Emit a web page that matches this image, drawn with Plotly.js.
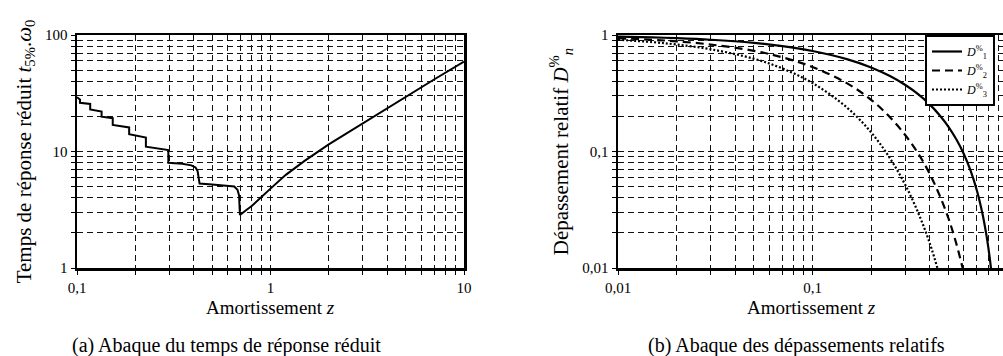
<!DOCTYPE html>
<html>
<head>
<meta charset="utf-8">
<script src="https://cdn.plot.ly/plotly-3.0.1.min.js"></script>
<style>html,body{margin:0;padding:0;background:#fff;overflow:hidden}#chart{width:1003px;height:356px}</style>
</head>
<body>
<div id="chart"></div>
<script>
// (a) reduced 5% response time vs damping
const zA = [0.1, 0.1036, 0.1036, 0.117, 0.117, 0.134, 0.134, 0.153, 0.153, 0.186, 0.186, 0.227, 0.227, 0.2965, 0.2965,
            0.35, 0.39, 0.41, 0.42, 0.427, 0.43, 0.5, 0.6, 0.65, 0.675, 0.688, 0.695, 0.72, 0.75, 0.8, 0.9, 1, 1.2, 1.5, 2, 3, 5, 7, 10];
const tA = [29.2, 28.0, 26.2, 25.6, 23.0, 22.0, 19.9, 19.3, 16.9, 16.1, 14.1, 13.2, 11.0, 10.3, 8.0,
            7.85, 7.6, 7.3, 6.8, 5.8, 5.3, 5.2, 5.1, 5.0, 4.7, 4.2, 2.85, 3.0, 3.15, 3.4, 4.1, 4.8, 6.3, 8.3, 11.5, 17.5, 29.8, 41.5, 59];

// (b) relative overshoots
const zD1 = [0.01, 0.015, 0.02, 0.03, 0.05, 0.07, 0.1, 0.15, 0.2, 0.25, 0.3, 0.35, 0.4, 0.45, 0.5, 0.55, 0.6, 0.65, 0.7, 0.75, 0.78, 0.8, 0.82, 0.84];
const D1  = [0.969, 0.954, 0.939, 0.910, 0.855, 0.802, 0.729, 0.621, 0.527, 0.444, 0.372, 0.309, 0.254, 0.205, 0.163, 0.126, 0.0948, 0.0681, 0.046, 0.0284, 0.0199, 0.0152, 0.0111, 0.0077];
const zD2 = [0.01, 0.015, 0.02, 0.03, 0.05, 0.07, 0.1, 0.15, 0.2, 0.25, 0.3, 0.35, 0.4, 0.45, 0.5, 0.55, 0.6];
const D2  = [0.939, 0.910, 0.882, 0.828, 0.731, 0.643, 0.531, 0.386, 0.278, 0.197, 0.138, 0.0955, 0.0645, 0.0420, 0.0266, 0.0159, 0.0090];
const zD3 = [0.01, 0.015, 0.02, 0.03, 0.05, 0.07, 0.1, 0.15, 0.2, 0.25, 0.3, 0.35, 0.4, 0.45];
const D3  = [0.910, 0.869, 0.828, 0.754, 0.625, 0.516, 0.387, 0.239, 0.146, 0.0875, 0.0515, 0.0295, 0.0164, 0.0086];

// tick labels and texts
const xTickValsA = [0.1, 1, 10], xTickTextA = ['0,1', '1', '10'];
const yTickValsA = [1, 10, 100], yTickTextA = ['1', '10', '100'];
const xTickValsB = [0.01, 0.1, 1], xTickTextB = ['0,01', '0,1', '1'];
const yTickValsB = [0.01, 0.1, 1], yTickTextB = ['0,01', '0,1', '1'];
const legendNames = ['<i>D</i><sup>%</sup><sub>1</sub>', '<i>D</i><sup>%</sup><sub>2</sub>', '<i>D</i><sup>%</sup><sub>3</sub>'];
const xTitle = 'Amortissement <i>z</i>';
const yTitleA = 'Temps de réponse réduit <i>t</i><sub>5%</sub>.<i>ω</i><sub>0</sub>';
const yTitleB = 'Dépassement relatif <i>D</i><sup>%</sup><sub><i>n</i></sub>';
const captions = ['(a) Abaque du temps de réponse réduit', '(b) Abaque des dépassements relatifs'];

function minorVals(lo, hi) {
  const out = [];
  for (let d = lo; d < hi; d++) for (let m = 2; m <= 9; m++) out.push(m * Math.pow(10, d));
  return out;
}

const FONT = '"Liberation Serif", "DejaVu Serif", serif';
const GRID = '#111';
const DASH = '6px,4px';

function axis(extra) {
  return Object.assign({
    type: 'log', showline: true, linecolor: '#000', linewidth: 2.5, mirror: true,
    ticks: 'outside', ticklen: 4, tickcolor: '#000', tickwidth: 1,
    showgrid: true, gridcolor: GRID, gridwidth: 1, griddash: DASH,
    zeroline: false, tickfont: {family: FONT, size: 15, color: '#000'},
    automargin: false, fixedrange: true
  }, extra);
}
function minor(lo, hi) {
  return {tickvals: minorVals(lo, hi), ticks: 'outside', ticklen: 4, tickcolor: '#000', showgrid: true, gridcolor: GRID, gridwidth: 1, griddash: DASH};
}

const traces = [
  {x: zA, y: tA, xaxis: 'x', yaxis: 'y', mode: 'lines', line: {color: '#000', width: 2}, showlegend: false},
  {x: zD1, y: D1, xaxis: 'x2', yaxis: 'y2', mode: 'lines', name: legendNames[0], line: {color: '#000', width: 2.2, shape: 'spline'}},
  {x: zD2, y: D2, xaxis: 'x2', yaxis: 'y2', mode: 'lines', name: legendNames[1], line: {color: '#000', width: 2.2, dash: '8px,5px', shape: 'spline'}},
  {x: zD3, y: D3, xaxis: 'x2', yaxis: 'y2', mode: 'lines', name: legendNames[2], line: {color: '#000', width: 2.2, dash: '2px,2px', shape: 'spline'}}
];

const W = 1003, H = 356;
const yDom = [(H - 268) / H, (H - 35) / H];
const domA = [77 / W, 464 / W], domB = [618 / W, 1];

const layout = {
  width: W, height: H, margin: {l: 0, r: 0, t: 0, b: 0},
  paper_bgcolor: '#fff', plot_bgcolor: '#fff',
  font: {family: FONT, color: '#000'},
  xaxis: axis({domain: domA, range: [-1, 1], anchor: 'y', tickvals: xTickValsA, ticktext: xTickTextA, minor: minor(-1, 1)}),
  yaxis: axis({domain: yDom, range: [0, 2], anchor: 'x', tickvals: yTickValsA, ticktext: yTickTextA, minor: minor(0, 2),
    title: {text: yTitleA, font: {family: FONT, size: 21, color: '#000'}, standoff: 8}}),
  xaxis2: axis({domain: domB, range: [-2, -0.021], anchor: 'y2', tickvals: xTickValsB, ticktext: xTickTextB, minor: minor(-2, 0)}),
  yaxis2: axis({domain: yDom, range: [-2, 0], anchor: 'x2', mirror: false, tickvals: yTickValsB, ticktext: yTickTextB, minor: minor(-2, 0),
    title: {text: yTitleB, font: {family: FONT, size: 21, color: '#000'}, standoff: 8}}),
  showlegend: true,
  legend: {x: 925 / W, y: yDom[1], xanchor: 'left', yanchor: 'top', bgcolor: '#fff', bordercolor: '#000', borderwidth: 2,
    font: {family: FONT, size: 12, color: '#000'}, tracegroupgap: 0, itemwidth: 30},
  annotations: [
    {text: xTitle, xref: 'paper', yref: 'paper', x: (domA[0] + domA[1]) / 2, y: (H - 307) / H, xanchor: 'center', yanchor: 'middle', showarrow: false, font: {family: FONT, size: 19, color: '#000'}},
    {text: xTitle, xref: 'paper', yref: 'paper', x: 811 / W, y: (H - 307) / H, xanchor: 'center', yanchor: 'middle', showarrow: false, font: {family: FONT, size: 19, color: '#000'}},
    {text: captions[0], xref: 'paper', yref: 'paper', x: 226 / W, y: (H - 345) / H, xanchor: 'center', yanchor: 'middle', showarrow: false, font: {family: FONT, size: 20, color: '#000'}},
    {text: captions[1], xref: 'paper', yref: 'paper', x: 796 / W, y: (H - 345) / H, xanchor: 'center', yanchor: 'middle', showarrow: false, font: {family: FONT, size: 20, color: '#000'}}
  ]
};

Plotly.newPlot('chart', traces, layout, {staticPlot: true, displayModeBar: false});
</script>
</body>
</html>
